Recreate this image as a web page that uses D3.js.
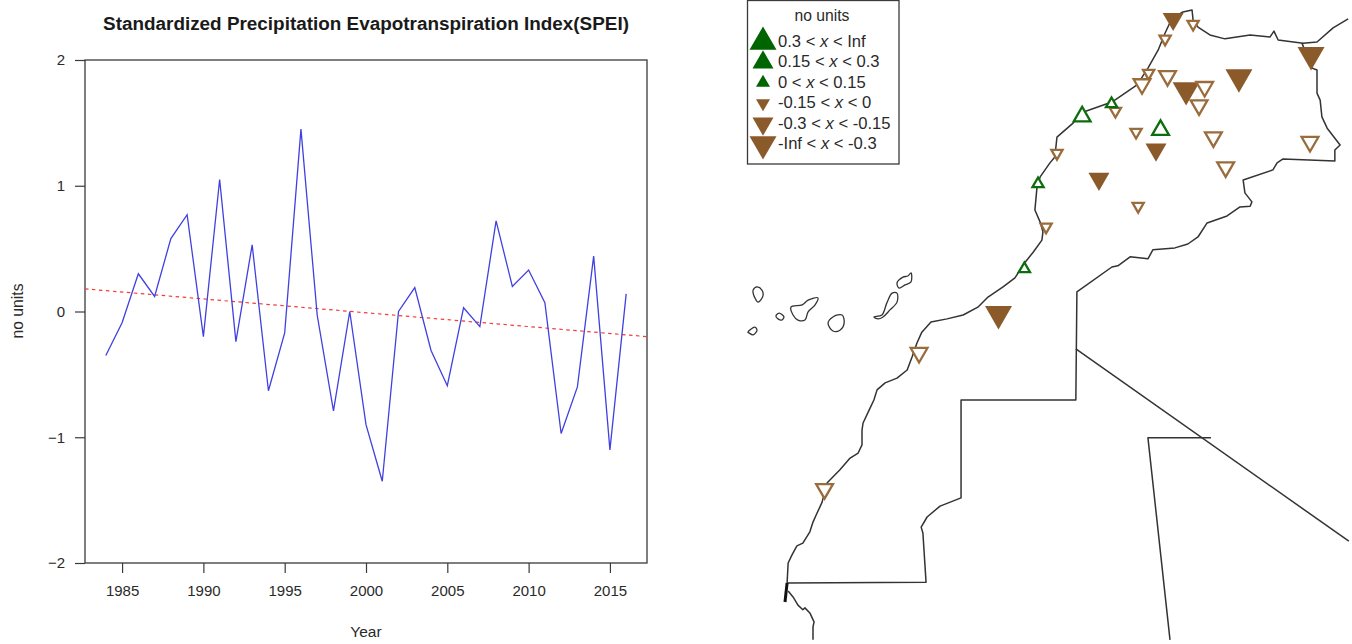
<!DOCTYPE html>
<html>
<head>
<meta charset="utf-8">
<script src="https://cdn.jsdelivr.net/npm/d3@7"></script>
<style>
html,body{margin:0;padding:0;background:#fff}
svg{display:block}
text{font-family:"Liberation Sans",Arimo,Helvetica,Arial,sans-serif;fill:#2a2a2a}
</style>
</head>
<body>
<svg id="chart" width="1352" height="644"></svg>
<script>
// ---------- SPEI time series ----------
const years = d3.range(1984, 2017);
const speiValues = [-0.35,-0.09,0.30,0.12,0.58,0.77,-0.20,1.05,-0.24,0.53,-0.63,-0.17,1.45,-0.03,-0.79,0.00,-0.90,-1.35,0.00,0.19,-0.31,-0.59,0.03,-0.12,0.72,0.20,0.33,0.07,-0.97,-0.60,0.44,-1.10,0.14];
const trendYears = [1982.72, 2017.28];
const trendValues = [0.18, -0.20];
const xTickValues = [1985,1990,1995,2000,2005,2010,2015];
const yTickValues = [-2,-1,0,1,2];
const chartTitle = "Standardized Precipitation Evapotranspiration Index(SPEI)";
const xAxisTitle = "Year";
const yAxisTitle = "no units";

// ---------- Map outlines, [longitude, latitude] ----------
const atlanticAndMediterraneanCoast = [[-16.94,21.31],[-16.91,21.82],[-16.80,22.03],[-16.66,22.26],[-16.49,22.33],[-16.29,22.62],[-16.20,22.87],[-16.11,23.05],[-15.94,23.38],[-15.80,23.87],[-15.43,24.21],[-15.14,24.51],[-14.91,24.64],[-14.80,24.85],[-14.80,25.23],[-14.77,25.41],[-14.57,25.79],[-14.46,26.00],[-14.37,26.26],[-14.14,26.44],[-13.80,26.56],[-13.51,26.77],[-13.37,27.10],[-13.23,27.46],[-13.09,27.74],[-12.83,28.00],[-12.37,28.08],[-11.91,28.18],[-11.49,28.38],[-11.20,28.64],[-10.77,28.90],[-10.43,29.13],[-10.20,29.46],[-9.91,29.79],[-9.66,30.10],[-9.63,30.31],[-9.71,30.56],[-9.86,30.87],[-9.80,31.46],[-9.71,31.72],[-9.43,32.08],[-9.29,32.23],[-9.23,32.74],[-8.77,33.10],[-8.49,33.38],[-7.66,33.64],[-6.94,34.08],[-6.63,34.51],[-6.34,34.97],[-6.14,35.41],[-5.94,35.79],[-5.63,35.95],[-5.37,36.00],[-5.34,35.74],[-5.20,35.56],[-4.86,35.36],[-4.43,35.26],[-3.71,35.36],[-3.14,35.31],[-3.03,35.46],[-2.91,35.23],[-2.20,35.15],[-1.80,35.18],[-1.34,35.54],[-0.91,35.77]];
const mauritaniaCoast = [[-16.20,19.85],[-16.20,20.18],[-16.17,20.31],[-16.29,20.54],[-16.43,20.67],[-16.49,20.62],[-16.63,20.74],[-16.77,20.95],[-16.91,21.10]];
const capeBlancPeninsula = [[-17.00,20.82],[-16.94,21.31]];
const southernBorder = [[-2.23,35.15],[-1.94,34.51],[-1.80,34.46],[-1.80,33.87],[-1.71,33.69],[-1.66,33.26],[-1.51,32.97],[-1.14,32.54],[-1.29,32.41],[-1.29,32.13],[-2.77,32.18],[-2.94,32.08],[-3.06,31.90],[-3.91,31.64],[-3.86,31.31],[-3.66,31.08],[-3.71,30.97],[-4.00,30.95],[-4.37,30.72],[-4.94,30.54],[-5.20,30.18],[-5.49,30.00],[-5.86,29.90],[-6.49,29.85],[-6.63,29.62],[-7.14,29.67],[-7.49,29.44],[-7.66,29.41],[-8.66,28.77],[-8.69,26.00],[-11.97,26.00],[-11.97,23.49],[-12.57,23.28],[-12.94,23.00],[-13.11,22.74],[-13.06,22.59],[-12.97,21.33],[-16.94,21.31]];
const algeriaMauritaniaBorder = [[-8.69,27.31],[-0.89,22.38]];
const mauritaniaMaliBorder = [[-4.83,25.03],[-6.63,25.03],[-6.00,19.85]];
const islandLaPalma = [[-17.91,28.82],[-17.80,28.90],[-17.66,28.82],[-17.63,28.67],[-17.77,28.51],[-17.86,28.62],[-17.91,28.74]];
const islandGomera = [[-17.26,28.15],[-17.17,28.23],[-17.03,28.13],[-17.09,28.05],[-17.20,28.08]];
const islandHierro = [[-18.06,27.74],[-17.86,27.87],[-17.80,27.79],[-17.91,27.67],[-18.03,27.72]];
const islandTenerife = [[-16.83,28.38],[-16.51,28.44],[-16.34,28.56],[-16.06,28.62],[-16.14,28.44],[-16.34,28.26],[-16.43,28.05],[-16.63,28.05],[-16.77,28.18]];
const islandGranCanaria = [[-15.77,27.97],[-15.63,28.13],[-15.37,28.18],[-15.31,27.97],[-15.43,27.79],[-15.63,27.77]];
const islandFuerteventura = [[-14.46,28.13],[-14.23,28.18],[-14.09,28.49],[-13.94,28.74],[-13.80,28.74],[-13.80,28.51],[-14.00,28.31],[-14.20,28.13],[-14.34,28.08]];
const islandLanzarote = [[-13.80,29.00],[-13.63,29.15],[-13.49,29.18],[-13.40,29.26],[-13.40,29.03],[-13.57,28.95],[-13.74,28.87]];

// ---------- Stations ----------
const stationLon = [-5.91,-1.97,-4.03,-5.54,-6.40,-8.03,-10.90,-5.34,-6.14,-6.61,-6.80,-6.07,-5.01,-5.17,-7.56,-6.97,-4.76,-2.00,-4.41,-9.23,-6.91,-9.54,-13.17,-15.87,-8.51,-7.67,-6.27,-9.77,-10.16];
const stationLat = [35.77,34.85,34.28,33.95,32.42,31.67,28.21,35.64,35.26,34.38,34.10,34.31,34.03,33.56,33.41,32.87,32.74,32.62,31.97,32.33,30.97,30.44,27.21,23.72,33.27,33.59,32.92,31.54,29.36];
const stationTrend = [-0.2,-0.35,-0.35,-0.35,-0.2,-0.2,-0.35,-0.1,-0.1,-0.1,-0.2,-0.2,-0.2,-0.2,-0.1,-0.1,-0.2,-0.2,-0.2,-0.1,-0.1,-0.1,-0.2,-0.2,0.2,0.1,0.2,0.1,0.1];
const stationSignificant = [1,1,1,1,1,1,1,0,0,0,0,0,0,0,0,0,0,0,0,0,0,0,0,0,0,0,0,0,0];

// ---------- Legend ----------
const legendTitle = "no units";
const legendLow = ["0.3","0.15","0","-0.15","-0.3","-Inf"];
const legendHigh = ["Inf","0.3","0.15","0","-0.15","-0.3"];
const legendClassValue = [0.4,0.2,0.1,-0.1,-0.2,-0.4];

// ---------- Drawing ----------
const svg = d3.select("#chart");
const DARK = "#3a3a3a", BROWN = "#8b5a2b", GREEN = "#006400";

// Left panel
const plot = {left:85, right:647, top:60, bottom:563};
const x = d3.scaleLinear().domain(d3.extent(trendYears)).range([plot.left, plot.right]);
const y = d3.scaleLinear().domain([-2,2]).range([plot.bottom, plot.top]);

svg.append("text").attr("x",366).attr("y",30).attr("text-anchor","middle")
  .style("font-size","18.9px").style("font-weight","bold").style("fill","#1a1a1a").text(chartTitle);

const xAxis = svg.append("g").attr("transform",`translate(0,${plot.bottom})`)
  .call(d3.axisBottom(x).tickValues(xTickValues).tickFormat(d3.format("d")).tickSize(10).tickPadding(12));
const yAxis = svg.append("g").attr("transform",`translate(${plot.left},0)`)
  .call(d3.axisLeft(y).tickValues(yTickValues).tickFormat(d3.format("d")).tickSize(10).tickPadding(10));
[xAxis,yAxis].forEach(g=>{
  g.select(".domain").remove();
  g.selectAll("line").attr("stroke",DARK).attr("stroke-width",1.2);
  g.selectAll("text").style("font-size","15px").style("font-family",'"Liberation Sans",sans-serif').style("fill","#2a2a2a");
});
svg.append("rect").attr("x",plot.left).attr("y",plot.top)
  .attr("width",plot.right-plot.left).attr("height",plot.bottom-plot.top)
  .attr("fill","none").attr("stroke",DARK).attr("stroke-width",1.3);

svg.append("path").attr("fill","none").attr("stroke","#f23c3c").attr("stroke-width",1.2).attr("stroke-dasharray","3.5,3.5")
  .attr("d",d3.line().x(d=>x(d[0])).y(d=>y(d[1]))(d3.zip(trendYears,trendValues)));
svg.append("path").attr("fill","none").attr("stroke","#4040e0").attr("stroke-width",1.3)
  .attr("d",d3.line().x(d=>x(d[0])).y(d=>y(d[1]))(d3.zip(years,speiValues)));

svg.append("text").attr("x",366).attr("y",637).attr("text-anchor","middle").style("font-size","15.5px").text(xAxisTitle);
svg.append("text").attr("transform","translate(23,311) rotate(-90)").attr("text-anchor","middle").style("font-size","15.7px").text(yAxisTitle);

// Right panel: map
const lon = d3.scaleLinear().domain([-20,0]).range([680,1380]);
const lat = d3.scaleLinear().domain([36,26]).range([10,400]);
const mapLine = d3.line().x(d=>lon(d[0])).y(d=>lat(d[1]));

const outlines = [atlanticAndMediterraneanCoast,mauritaniaCoast,southernBorder,algeriaMauritaniaBorder,mauritaniaMaliBorder];
svg.append("clipPath").attr("id","frame").append("rect").attr("width",1352).attr("height",644);
const map = svg.append("g").attr("clip-path","url(#frame)");
map.selectAll("path.outline").data(outlines).join("path").attr("class","outline")
  .attr("fill","none").attr("stroke","#333").attr("stroke-width",1.5).attr("stroke-linejoin","round").attr("d",mapLine);
map.append("path").attr("fill","none").attr("stroke","#111").attr("stroke-width",3).attr("d",mapLine(capeBlancPeninsula));
const islands = [islandLaPalma,islandGomera,islandHierro,islandTenerife,islandGranCanaria,islandFuerteventura,islandLanzarote];
map.selectAll("path.island").data(islands).join("path").attr("class","island")
  .attr("fill","none").attr("stroke","#333").attr("stroke-width",1.3).attr("stroke-linejoin","round")
  .attr("d",d=>d3.line().x(p=>lon(p[0])).y(p=>lat(p[1])).curve(d3.curveCatmullRomClosed)(d));

const sideByClass = d3.scaleThreshold().domain([-0.3,-0.15,0,0.15,0.3]).range([27,21,14,14,21,27]);
const triangle = side => d3.symbol().type(d3.symbolTriangle).size(side*side*Math.sqrt(3)/4)();
const colourOf = v => v<0 ? BROWN : GREEN;
const rotOf = v => v<0 ? " rotate(180)" : "";

const stations = stationLon.map((l,i)=>({lon:l,lat:stationLat[i],v:stationTrend[i],sig:stationSignificant[i]}));
map.selectAll("path.station").data(stations).join("path").attr("class","station")
  .attr("transform",d=>`translate(${lon(d.lon)},${lat(d.lat)})${rotOf(d.v)}`)
  .attr("d",d=>triangle(d.sig ? sideByClass(d.v) : sideByClass(d.v)*0.8))
  .attr("fill",d=>d.sig ? colourOf(d.v) : "#fff")
  .attr("stroke",d=>d.sig ? "none" : (d.v<0 ? "#9a6c3c" : "#0b6d0b"))
  .attr("stroke-width",2.3)
  .attr("stroke-linejoin","miter");

// Legend
svg.append("rect").attr("x",747.5).attr("y",0.5).attr("width",151.5).attr("height",163.5)
  .attr("fill","#fff").attr("stroke",DARK).attr("stroke-width",1.3);
svg.append("text").attr("x",822).attr("y",21).attr("text-anchor","middle").style("font-size","15.7px").text(legendTitle);
const legendY = d3.scalePoint().domain(d3.range(legendLow.length)).range([42,144]);
const rows = svg.selectAll("g.row").data(d3.range(legendLow.length)).join("g").attr("class","row")
  .attr("transform",i=>`translate(0,${legendY(i)})`);
rows.append("path").attr("transform",i=>`translate(763,0)${rotOf(legendClassValue[i])}`)
  .attr("d",i=>triangle(sideByClass(legendClassValue[i])))
  .attr("fill",i=>colourOf(legendClassValue[i]));
const rowText = rows.append("text").attr("x",778).attr("y",5).style("font-size","16.6px");
rowText.append("tspan").text(i=>legendLow[i]+" < ");
rowText.append("tspan").style("font-style","italic").text("x");
rowText.append("tspan").text(i=>" < "+legendHigh[i]);
</script>
</body>
</html>
